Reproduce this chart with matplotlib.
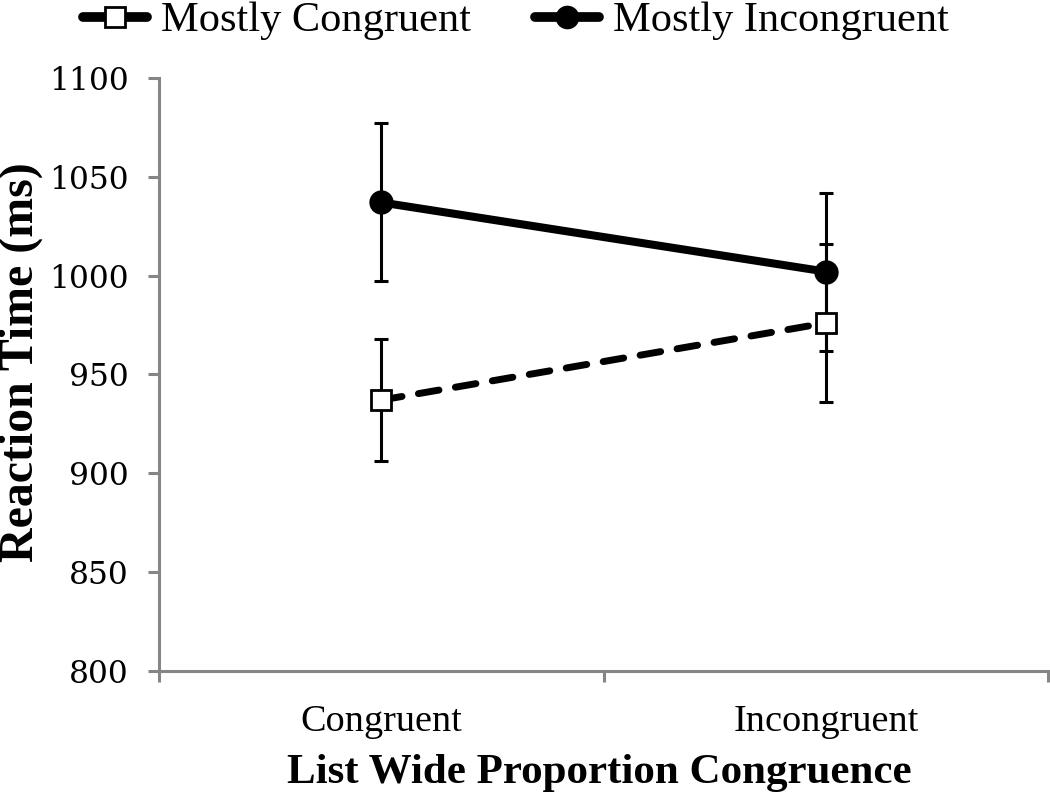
import matplotlib
matplotlib.use("Agg")
import matplotlib.pyplot as plt
from matplotlib.lines import Line2D

# ---- data ----
categories = ["Congruent", "Incongruent"]
series_names = ["Mostly Congruent", "Mostly Incongruent"]
mc_means = [937, 976]
mc_err = [31, 40]
mi_means = [1037, 1002]
mi_err = [40, 40]
y_ticks = [800, 850, 900, 950, 1000, 1050, 1100]

TEXT_FONT = "Liberation Serif"
TICK_FONT = "DejaVu Serif"
AXIS_GRAY = "#868686"

fig = plt.figure(figsize=(10.5, 7.92), dpi=100)
W, H = 1050, 792
ax_left, ax_right, ax_bottom, ax_top = 159.3, 1048, 670.7, 78
ax = fig.add_axes([ax_left / W, (H - ax_bottom) / H,
                   (ax_right - ax_left) / W, (ax_bottom - ax_top) / H])

x = list(range(len(categories)))

# error bars
ax.errorbar(x, mc_means, yerr=mc_err, fmt="none", ecolor="black",
            elinewidth=2.2, capsize=4.7, capthick=2.2, zorder=2)
ax.errorbar(x, mi_means, yerr=mi_err, fmt="none", ecolor="black",
            elinewidth=2.2, capsize=4.7, capthick=2.2, zorder=2)

# lines
ax.plot(x, mi_means, color="black", lw=5.8, solid_capstyle="round", zorder=3)
ax.plot(x, mc_means, color="black", lw=5.0, dashes=(3.0, 2.4),
        dash_capstyle="round", zorder=3)

# markers
ax.plot(x, mi_means, ls="none", marker="o", ms=16, mfc="black", mec="black",
        mew=1.5, zorder=4)
ax.plot(x, mc_means, ls="none", marker="s", ms=15, mfc="white", mec="black",
        mew=2.0, zorder=4)

# axes styling
ax.set_xlim(-0.5, 1.5)
ax.set_ylim(800, 1100)
for side in ["top", "right"]:
    ax.spines[side].set_visible(False)
for side in ["left", "bottom"]:
    ax.spines[side].set_color(AXIS_GRAY)
    ax.spines[side].set_linewidth(2.2)

ax.set_yticks(y_ticks)
ax.set_yticklabels([str(v) for v in y_ticks], fontfamily=TICK_FONT, fontsize=22.5)
ax.tick_params(axis="y", direction="out", length=8, width=2.2,
               color=AXIS_GRAY, pad=14)

ax.set_xticks([-0.5, 0.5, 1.5])
ax.set_xticklabels(["", "", ""])
ax.set_xticks(x, minor=True)
ax.set_xticklabels(categories, minor=True, fontfamily=TEXT_FONT, fontsize=27.5)
ax.tick_params(axis="x", which="major", direction="out", length=8, width=2.2,
               color=AXIS_GRAY)
ax.tick_params(axis="x", which="minor", length=0, pad=24)

ax.set_xlabel("List Wide Proportion Congruence", fontfamily=TEXT_FONT,
              fontsize=31, fontweight="bold", va="baseline")
ax.xaxis.set_label_coords(0.495, (ax_bottom - 783) / (ax_bottom - ax_top))
ax.set_ylabel("Reaction Time (ms)", fontfamily=TEXT_FONT, fontsize=34.5,
              fontweight="bold", va="center")
ax.yaxis.set_label_coords((21 - ax_left) / (ax_right - ax_left),
                          (ax_bottom - 362.5) / (ax_bottom - ax_top))

# legend (two single-entry legends placed at the reference positions)
h_mc = Line2D([], [], color="black", lw=7, solid_capstyle="round",
              marker="s", ms=15, mfc="white", mec="black", mew=2.0)
h_mi = Line2D([], [], color="black", lw=7, solid_capstyle="round",
              marker="o", ms=16, mfc="black", mec="black")
leg_kw = dict(frameon=False, borderpad=0, borderaxespad=0, handlelength=1.5,
              handletextpad=0.33, loc="center left",
              prop={"family": TEXT_FONT, "size": 30.5})
leg1 = fig.legend([h_mc], [series_names[0]],
                  bbox_to_anchor=(83 / W, 1 - 21 / H), **leg_kw)
leg2 = fig.legend([h_mi], [series_names[1]],
                  bbox_to_anchor=(535 / W, 1 - 21 / H), **leg_kw)

fig.savefig("out.png", dpi=100)
